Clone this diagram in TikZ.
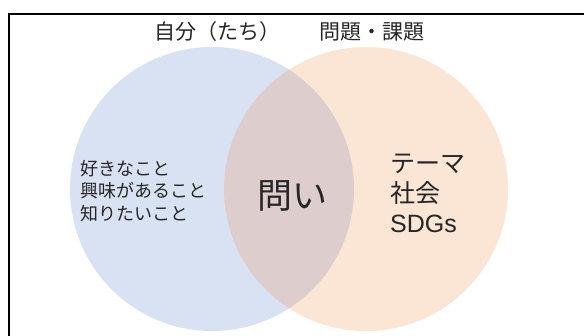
\documentclass[tikz,border=0pt]{standalone}
\usepackage{fontspec}
\setmainfont{Noto Sans CJK JP}
\newfontfamily\latinfont{Liberation Sans}
\begin{document}
\begin{tikzpicture}[x=1pt,y=-1pt,
  lbl/.style={inner sep=0pt, text=black!85},
  setL/.style={fill={rgb,255:red,68;green,114;blue,196}, fill opacity=0.2, draw=none},
  setR/.style={fill={rgb,255:red,237;green,125;blue,49}, fill opacity=0.2, draw=none}]
\useasboundingbox (0,0) rectangle (584,336);
\clip (0,0) rectangle (584,336);
\fill[white] (0,0) rectangle (584,336);
\draw[line width=2pt, black] (9,350) -- (9,14) -- (600,14);
\node[setL, circle, minimum size=284pt] (L) at (212,189) {};
\node[setR, circle, minimum size=284pt] (R) at (366,189) {};
\node[lbl, font=\fontsize{21}{24}\selectfont] (tL) at (217,32) {自分（たち）};
\node[lbl, font=\fontsize{21}{24}\selectfont] (tR) at (372,32) {問題・課題};
\node[lbl, anchor=west, align=left, font=\fontsize{18}{22.5}\selectfont] (left) at (80,191) {好きなこと\\興味があること\\知りたいこと};
\node[lbl, font=\fontsize{35}{40}\selectfont] (q) at (292,196) {問い};
\node[lbl, anchor=west, align=left, font=\fontsize{25}{30}\selectfont] (right) at (390,193) {テーマ\\社会\\{\latinfont SDGs}};
\end{tikzpicture}
\end{document}
